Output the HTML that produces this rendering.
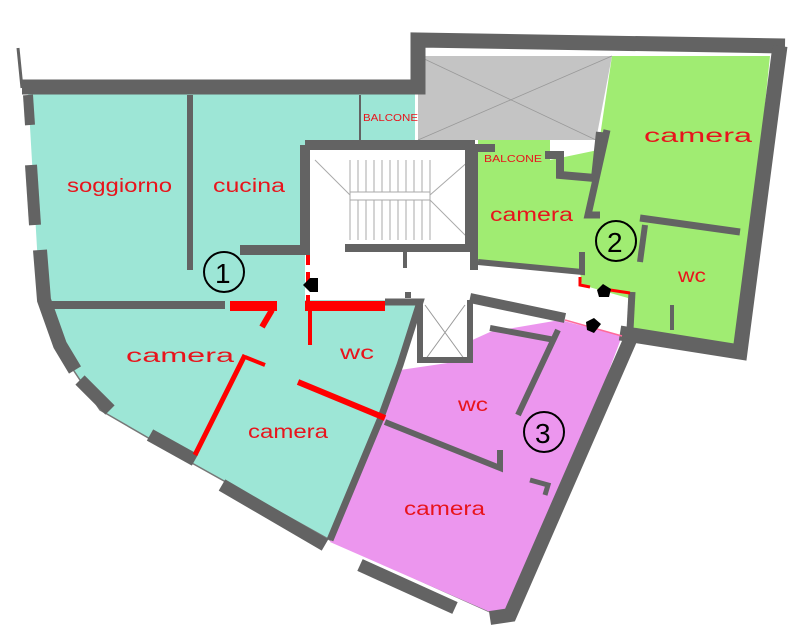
<!DOCTYPE html>
<html><head><meta charset="utf-8"><style>
html,body{margin:0;padding:0;background:#fff;}
svg{display:block;}
text{font-family:"Liberation Sans",sans-serif;fill:#e8141c;}
</style></head><body>
<svg width="807" height="640" viewBox="0 0 807 640" xmlns="http://www.w3.org/2000/svg">
<polygon points="28,92 415,92 415,148 305,148 305,300 420,300 400,370 380,420 330,540 190,462 100,410 60,350 40,300" fill="#9de6d6"/>
<polyline points="40,300 60,350 100,410 190,462 330,540 490,612" fill="none" stroke="#777" stroke-width="1.5"/>
<polygon points="418,56 612,56 596,140 418,140" fill="#c4c4c4"/>
<line x1="418" y1="56" x2="596" y2="140" stroke="#999" stroke-width="0.8"/>
<line x1="612" y1="56" x2="418" y2="140" stroke="#999" stroke-width="0.8"/>
<polygon points="612,56 770,56 740,345 632,330 628,298 582,285 580,272 478,262 478,140 550,140 550,160 598,150" fill="#a0ec72"/>
<polygon points="468,342 490,332 560,320 622,336 560,500 505,615 490,612 330,542 380,420 400,370 468,360" fill="#ec96ee"/>
<rect x="310" y="152" width="160" height="95" fill="#fff"/>
<g stroke="#aaa" stroke-width="1">
<line x1="350" y1="160" x2="350" y2="240"/><line x1="358" y1="160" x2="358" y2="240"/><line x1="366" y1="160" x2="366" y2="240"/>
<line x1="374" y1="160" x2="374" y2="240"/><line x1="382" y1="160" x2="382" y2="240"/><line x1="390" y1="160" x2="390" y2="240"/>
<line x1="398" y1="160" x2="398" y2="240"/><line x1="406" y1="160" x2="406" y2="240"/><line x1="414" y1="160" x2="414" y2="240"/>
<line x1="422" y1="160" x2="422" y2="240"/><line x1="430" y1="160" x2="430" y2="240"/>
<rect x="350" y="192" width="80" height="8" fill="#fff"/>
<line x1="315" y1="160" x2="350" y2="195"/><line x1="470" y1="160" x2="430" y2="195"/><line x1="470" y1="240" x2="430" y2="200"/>
</g>
<rect x="425" y="305" width="40" height="55" fill="#fff"/>
<line x1="425" y1="305" x2="465" y2="360" stroke="#999"/><line x1="465" y1="305" x2="425" y2="360" stroke="#999"/>
<g stroke="#636363" fill="none" stroke-linejoin="miter">
<path d="M18,48 L22,88" stroke-width="3"/>
<path d="M22,87 L418,87 L418,40 L785,46" stroke-width="15"/>
<path d="M780,46 L740,352 L620,333" stroke-width="15"/>
<path d="M28,95 L30,125" stroke-width="10"/>
<path d="M31,165 L35,225" stroke-width="12"/>
<path d="M40,250 L44,300 L60,345 L75,370" stroke-width="14"/>
<path d="M80,380 L110,410" stroke-width="13"/>
<path d="M150,435 L195,460" stroke-width="13"/>
<path d="M222,485 L325,545" stroke-width="13"/>
<path d="M360,565 L455,608" stroke-width="13"/>
<path d="M490,618 L510,615 L630,340" stroke-width="14"/>
<path d="M190,95 L190,270" stroke-width="6"/>
<path d="M45,305 L225,305" stroke-width="8"/>
<path d="M305,145 L470,145 L470,250" stroke-width="10"/>
<path d="M305,145 L305,250 L240,250" stroke-width="10"/>
<path d="M345,248 L470,248" stroke-width="8"/>
<path d="M405,250 L405,268" stroke-width="4"/>
<path d="M385,302 L420,302 L400,365 L380,420 L330,540" stroke-width="7"/>
<path d="M360,95 L360,140" stroke-width="2"/>
<path d="M474,150 L474,270" stroke-width="8"/>
<path d="M474,148 L495,148" stroke-width="8"/>
<path d="M545,155 L560,155 L560,175 L595,178 L600,132" stroke-width="8"/>
<path d="M478,262 L582,272 L582,252" stroke-width="6"/>
<path d="M607,130 L588,215 L600,215" stroke-width="7"/>
<path d="M640,218 L740,232" stroke-width="7"/>
<path d="M645,225 L640,262" stroke-width="6"/>
<path d="M632,292 L630,330" stroke-width="7"/>
<path d="M672,305 L672,330" stroke-width="4"/>
<path d="M470,298 L565,318" stroke-width="10"/>
<path d="M470,300 L470,360 L420,360 L420,302" stroke-width="6"/>
<path d="M490,328 L555,340" stroke-width="6"/>
<path d="M558,330 L518,415" stroke-width="6"/>
<path d="M385,422 L500,468 L500,450" stroke-width="6"/>
<path d="M530,480 L548,485 L545,495" stroke-width="5"/>
<path d="M408,298 L408,292" stroke-width="6"/>
</g>
<g stroke="#ff0000" fill="none">
<path d="M230,306 L277,306" stroke-width="10"/>
<path d="M272,310 L262,327" stroke-width="6"/>
<path d="M305,306 L385,306" stroke-width="10"/>
<path d="M308,255 L308,265 M308,272 L308,282 M308,295 L308,303" stroke-width="4"/>
<path d="M310,310 L310,345" stroke-width="4"/>
<path d="M245,355 L195,455" stroke-width="5"/>
<path d="M245,357 L265,365" stroke-width="4"/>
<path d="M298,382 L385,418" stroke-width="6"/>
<path d="M580,277 L580,285 L590,287 M610,290 L630,293" stroke-width="3"/>
<path d="M565,320 L622,336" stroke-width="1.5" stroke="#ff6a9a"/>
</g>
<polygon points="303,285 310,278 318,278 318,292 310,292" fill="#000"/>
<polygon points="597,290 603,284 611,289 609,297 599,297" fill="#000"/>
<polygon points="586,322 594,318 601,324 594,333 587,330" fill="#000"/>
<g fill="none" stroke="#000" stroke-width="2">
<circle cx="224" cy="272" r="20"/><circle cx="616" cy="241" r="20"/><circle cx="544" cy="432" r="20"/>
</g>
<g style="font-size:28px">
<text x="215" y="283" style="fill:#000">1</text>
<text x="607" y="252" style="fill:#000">2</text>
<text x="535" y="443" style="fill:#000">3</text>
</g>
<g style="font-size:19px">
<text x="67" y="192" textLength="105" lengthAdjust="spacingAndGlyphs">soggiorno</text>
<text x="213" y="192" textLength="72" lengthAdjust="spacingAndGlyphs">cucina</text>
<text x="644" y="142" textLength="108" lengthAdjust="spacingAndGlyphs">camera</text>
<text x="490" y="221" textLength="83" lengthAdjust="spacingAndGlyphs">camera</text>
<text x="678" y="282" textLength="28" lengthAdjust="spacingAndGlyphs">wc</text>
<text x="126" y="362" textLength="108" lengthAdjust="spacingAndGlyphs">camera</text>
<text x="340" y="359" textLength="34" lengthAdjust="spacingAndGlyphs">wc</text>
<text x="248" y="438" textLength="80" lengthAdjust="spacingAndGlyphs">camera</text>
<text x="458" y="411" textLength="30" lengthAdjust="spacingAndGlyphs">wc</text>
<text x="404" y="515" textLength="81" lengthAdjust="spacingAndGlyphs">camera</text>
</g>
<g style="font-size:10px">
<text x="363" y="121" textLength="55" lengthAdjust="spacingAndGlyphs">BALCONE</text>
<text x="484" y="162" textLength="58" lengthAdjust="spacingAndGlyphs">BALCONE</text>
</g>
</svg>
</body></html>
